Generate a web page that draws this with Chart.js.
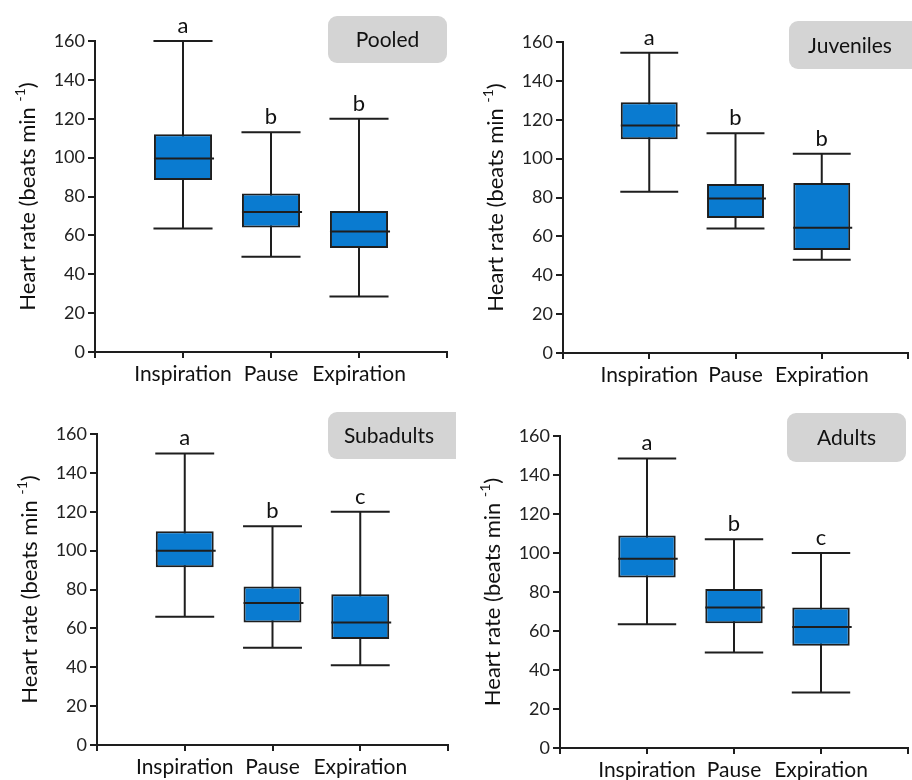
<!DOCTYPE html>
<html>
<head>
<meta charset="utf-8">
<script src="https://cdn.jsdelivr.net/npm/chart.js@4"></script>
<style>
  body { margin: 0; background: #fff; }
  #wrap { position: relative; width: 912px; height: 780px; overflow: hidden; }
  #wrap canvas { position: absolute; }
</style>
</head>
<body>
<div id="wrap">
  <canvas id="c0" width="456" height="390" style="left:0;top:0"></canvas>
  <canvas id="c1" width="456" height="390" style="left:456px;top:0"></canvas>
  <canvas id="c2" width="456" height="390" style="left:0;top:390px"></canvas>
  <canvas id="c3" width="456" height="390" style="left:456px;top:390px"></canvas>
</div>
<script>
// --- data --------------------------------------------------------------
const GROUPS = ['Pooled', 'Juveniles', 'Subadults', 'Adults'];
const PHASES = ['Inspiration', 'Pause', 'Expiration'];

// one row per group, one column per phase
const WHISKER_LOW = [
  [63.5, 49, 28.5],
  [83, 64, 48],
  [66, 50, 41],
  [63.5, 49, 28.5],
];
const Q1 = [
  [88.5, 64, 53.5],
  [110, 69.5, 53],
  [91.5, 63, 54.5],
  [87.5, 64, 52.5],
];
const MEDIAN = [
  [99.5, 72, 62],
  [117, 79.5, 64.5],
  [100, 73, 63],
  [97, 72, 62],
];
const Q3 = [
  [112, 81.5, 72.5],
  [129, 87, 87.5],
  [110, 81.5, 77.5],
  [109, 81.5, 72],
];
const WHISKER_HIGH = [
  [160, 113, 120],
  [154.5, 113, 102.5],
  [150, 112.5, 120],
  [148.5, 107, 100],
];
const LETTERS = [
  ['a', 'b', 'b'],
  ['a', 'b', 'b'],
  ['a', 'b', 'c'],
  ['a', 'b', 'c'],
];
const Y_TICKS = [0, 20, 40, 60, 80, 100, 120, 140, 160];

// --- layout of each panel inside its 456x390 canvas ----------------------
const PANELS = [
  { left: 95,  right: 447, top: 41, bottom: 352, tag: [328, 16, 119, 47] },
  { left: 107, right: 455, top: 42, bottom: 353, tag: [333, 21, 140, 48] },
  { left: 97,  right: 448, top: 44, bottom: 355, tag: [328, 22, 140, 47] },
  { left: 104, right: 455, top: 46, bottom: 358, tag: [331, 23, 119, 49] },
];

const FONT = 'Lato, "Open Sans", sans-serif';
const INK = '#1e1e1e';
const BOX_BLUE = '#0a7bd0';

const boxExtras = {
  id: 'boxExtras',
  beforeDatasetsDraw(chart, args, opts) {
    const g = opts.group;
    const { ctx, scales: { x, y } } = chart;
    const bars = chart.getDatasetMeta(0).data;
    ctx.save();
    ctx.strokeStyle = INK;
    ctx.lineWidth = 2;
    PHASES.forEach((p, i) => {
      const cx = x.getPixelForValue(i + 1);
      const half = bars[i + 1].width / 2 + 0.5;
      const lo = y.getPixelForValue(WHISKER_LOW[g][i]);
      const hi = y.getPixelForValue(WHISKER_HIGH[g][i]);
      ctx.beginPath();
      ctx.moveTo(cx, lo); ctx.lineTo(cx, hi);
      ctx.moveTo(cx - half, lo); ctx.lineTo(cx + half, lo);
      ctx.moveTo(cx - half, hi); ctx.lineTo(cx + half, hi);
      ctx.stroke();
    });
    ctx.restore();
  },
  afterDatasetsDraw(chart, args, opts) {
    const g = opts.group;
    const { ctx, chartArea, scales: { x, y } } = chart;
    const bars = chart.getDatasetMeta(0).data;
    ctx.save();
    // medians
    ctx.strokeStyle = INK;
    ctx.lineWidth = 2;
    PHASES.forEach((p, i) => {
      const cx = x.getPixelForValue(i + 1);
      const half = bars[i + 1].width / 2;
      const m = y.getPixelForValue(MEDIAN[g][i]);
      ctx.beginPath();
      ctx.moveTo(cx - half, m); ctx.lineTo(cx + half + 2, m);
      ctx.stroke();
    });
    // significance letters
    ctx.fillStyle = '#111';
    ctx.font = '22px ' + FONT;
    ctx.textAlign = 'center';
    ctx.textBaseline = 'alphabetic';
    PHASES.forEach((p, i) => {
      const cx = x.getPixelForValue(i + 1);
      const hi = y.getPixelForValue(WHISKER_HIGH[g][i]);
      ctx.fillText(LETTERS[g][i], cx, hi - 8);
    });
    // group tag
    const [tx, ty, tw, th] = PANELS[g].tag;
    ctx.fillStyle = '#d4d4d4';
    ctx.beginPath();
    if (ctx.roundRect) ctx.roundRect(tx, ty, tw, th, 9); else ctx.rect(tx, ty, tw, th);
    ctx.fill();
    ctx.fillStyle = '#111';
    ctx.font = '21px ' + FONT;
    ctx.textBaseline = 'middle';
    const labelCx = Math.min(tx + tw / 2, tx + 61);
    ctx.fillText(GROUPS[g], labelCx, ty + th / 2 + 1);
    // y axis title with superscript
    const cy = (chartArea.top + chartArea.bottom) / 2;
    ctx.translate(chartArea.left - 67, cy);
    ctx.rotate(-Math.PI / 2);
    const big = '22px ' + FONT, small = '14px ' + FONT;
    const a = 'Heart rate (beats min ', s = '-1', b = ')';
    ctx.font = big; const wa = ctx.measureText(a).width, wb = ctx.measureText(b).width;
    ctx.font = small; const ws = ctx.measureText(s).width;
    let px = -(wa + ws + wb) / 2;
    ctx.textAlign = 'left';
    ctx.textBaseline = 'middle';
    ctx.fillStyle = '#111';
    ctx.font = big; ctx.fillText(a, px, 0); px += wa;
    ctx.font = small; ctx.fillText(s, px, -8); px += ws;
    ctx.font = big; ctx.fillText(b, px, 0);
    ctx.restore();
  }
};

function renderPanel(g) {
  const P = PANELS[g];
  const ctx = document.getElementById('c' + g).getContext('2d');
  const boxes = [null, ...PHASES.map((p, i) => [Q1[g][i], Q3[g][i]]), null];

  return new Chart(ctx, {
    type: 'bar',
    data: {
      labels: ['', ...PHASES, ''],
      datasets: [{
        data: boxes,
        backgroundColor: BOX_BLUE,
        borderColor: INK,
        borderWidth: 2,
        borderSkipped: false,
        categoryPercentage: 1,
        barPercentage: 0.66,
      }]
    },
    options: {
      responsive: false,
      animation: false,
      devicePixelRatio: 1,
      layout: { padding: { top: P.top, right: 456 - P.right, bottom: 0, left: 0 } },
      plugins: {
        legend: { display: false },
        tooltip: { enabled: false },
        boxExtras: { group: g },
      },
      scales: {
        x: {
          offset: false,
          grid: { offset: false, drawOnChartArea: false, color: INK, lineWidth: 2, tickLength: 6 },
          border: { color: INK, width: 2 },
          ticks: { autoSkip: false, maxRotation: 0, padding: 4, color: '#111', font: { family: FONT, size: 21 } },
          afterFit: s => { s.height = 390 - P.bottom; },
        },
        y: {
          min: 0, max: 160,
          afterBuildTicks: s => { s.ticks = Y_TICKS.map(v => ({ value: v })); },
          grid: { drawOnChartArea: false, color: INK, lineWidth: 2, tickLength: 7 },
          border: { color: INK, width: 2 },
          ticks: { padding: 3, color: '#222', font: { family: FONT, size: 18 } },
          afterFit: s => { s.width = P.left; },
        }
      }
    },
    plugins: [boxExtras]
  });
}

GROUPS.forEach((name, g) => renderPanel(g));
</script>
</body>
</html>
